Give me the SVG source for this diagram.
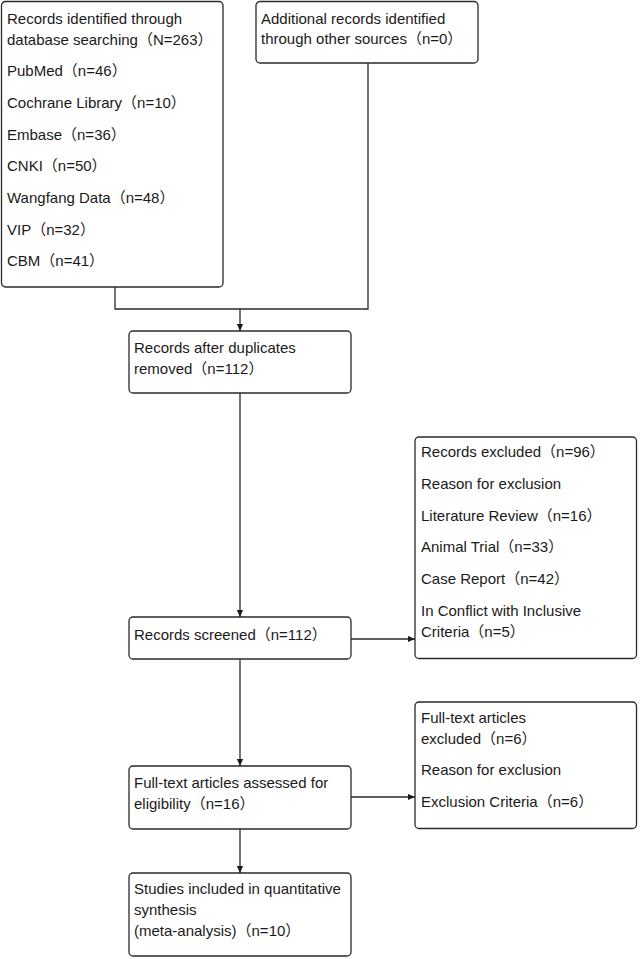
<svg xmlns="http://www.w3.org/2000/svg" width="640" height="959" viewBox="0 0 640 959">
<style>
.box{fill:#fff;stroke:#2a2a2a;stroke-width:1.3}
.t{font-family:"Liberation Sans","Noto Sans CJK SC",Arial,sans-serif;font-size:15px;fill:#1a1a1a}
.c{fill:none;stroke:#2a2a2a;stroke-width:1.3}
</style>
<defs>
<marker id="ah" viewBox="0 0 8 8" refX="8" refY="4" markerWidth="7" markerHeight="7" markerUnits="userSpaceOnUse" orient="auto">
<path d="M0,0.5 L8,4 L0,7.5 Z" fill="#1a1a1a"/>
</marker>
</defs>
<rect width="640" height="959" fill="#fff"/>
<g id="connectors">
<path class="c" d="M115,287 V309 H368 V63"/>
<path class="c" d="M240,309 V331" marker-end="url(#ah)"/>
<path class="c" d="M240,393 V617" marker-end="url(#ah)"/>
<path class="c" d="M351,639 H415" marker-end="url(#ah)"/>
<path class="c" d="M240,659 V766" marker-end="url(#ah)"/>
<path class="c" d="M351,797 H415" marker-end="url(#ah)"/>
<path class="c" d="M240,829 V873" marker-end="url(#ah)"/>
</g>
<g id="n-database">
<rect class="box" x="1.5" y="1.5" width="221.5" height="285.5" rx="4"/>
<text class="t" x="7" y="24">Records identified through</text>
<text class="t" x="7" y="44.5">database searching（N=263）</text>
<text class="t" x="7" y="76">PubMed（n=46）</text>
<text class="t" x="7" y="108">Cochrane Library（n=10）</text>
<text class="t" x="7" y="139.5">Embase（n=36）</text>
<text class="t" x="7" y="171">CNKI（n=50）</text>
<text class="t" x="7" y="203">Wangfang Data（n=48）</text>
<text class="t" x="7" y="234.5">VIP（n=32）</text>
<text class="t" x="7" y="266">CBM（n=41）</text>
</g>
<g id="n-additional">
<rect class="box" x="256" y="1.5" width="222" height="61.5" rx="4"/>
<text class="t" x="261" y="23.5">Additional records identified</text>
<text class="t" x="261" y="44">through other sources（n=0）</text>
</g>
<g id="n-duplicates">
<rect class="box" x="129" y="331" width="222" height="62" rx="4"/>
<text class="t" x="134" y="353">Records after duplicates</text>
<text class="t" x="134" y="373.5">removed（n=112）</text>
</g>
<g id="n-screened">
<rect class="box" x="129" y="617" width="222" height="42" rx="4"/>
<text class="t" x="134" y="639.5">Records screened（n=112）</text>
</g>
<g id="n-excluded">
<rect class="box" x="415" y="437" width="221.5" height="221.5" rx="4"/>
<text class="t" x="421" y="457">Records excluded（n=96）</text>
<text class="t" x="421" y="489">Reason for exclusion</text>
<text class="t" x="421" y="520.5">Literature Review（n=16）</text>
<text class="t" x="421" y="552">Animal Trial（n=33）</text>
<text class="t" x="421" y="584">Case Report（n=42）</text>
<text class="t" x="421" y="616">In Conflict with Inclusive</text>
<text class="t" x="421" y="636.5">Criteria（n=5）</text>
</g>
<g id="n-fulltext">
<rect class="box" x="129" y="766" width="222" height="63" rx="4"/>
<text class="t" x="134" y="788">Full-text articles assessed for</text>
<text class="t" x="134" y="808.5">eligibility（n=16）</text>
</g>
<g id="n-ft-excluded">
<rect class="box" x="415" y="702" width="221.5" height="126.5" rx="4"/>
<text class="t" x="421" y="723">Full-text articles</text>
<text class="t" x="421" y="743.5">excluded（n=6）</text>
<text class="t" x="421" y="775">Reason for exclusion</text>
<text class="t" x="421" y="807">Exclusion Criteria（n=6）</text>
</g>
<g id="n-included">
<rect class="box" x="129" y="873" width="222" height="83" rx="4"/>
<text class="t" x="134" y="894">Studies included in quantitative</text>
<text class="t" x="134" y="915">synthesis</text>
<text class="t" x="134" y="936">(meta-analysis)（n=10）</text>
</g>
</svg>
